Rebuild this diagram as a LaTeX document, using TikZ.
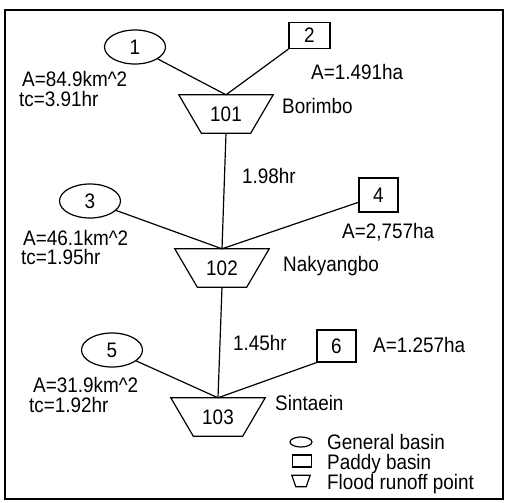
\documentclass[tikz,border=0pt]{standalone}
\usepackage{fontspec}
\setmainfont{Liberation Sans}[FakeStretch=0.9]
\usetikzlibrary{shapes.geometric}
\begin{document}
\begin{tikzpicture}[x=1pt,y=-1pt,
  txt/.style={font=\fontsize{21}{24}\selectfont},
  lbl/.style={txt, anchor=base west, inner sep=0pt},
  gen/.style={txt, draw, ellipse, minimum width=61pt, minimum height=34pt, inner sep=0pt, line width=1.2pt},
  pad/.style={txt, draw, rectangle, inner sep=0pt, line width=1.2pt},
  outp/.style={txt, rectangle, minimum width=94pt, minimum height=38pt, inner sep=0pt},
  conn/.style={line width=1.2pt}
]
\useasboundingbox (0,0) rectangle (507,503);
\draw[line width=2pt] (5,10) rectangle (503,499);

% basins
\node[gen] (e1) at (135,47) {1};
\node[pad, minimum width=41pt, minimum height=26pt] (b2) at (309.5,35.5) {2};
\node[outp] (t101) at (226,114) {101};

\node[gen] (e3) at (90,201) {3};
\node[pad, minimum width=39pt, minimum height=34pt] (b4) at (378.5,195) {4};
\node[outp] (t102) at (222,268) {102};

\node[gen] (e5) at (112,350) {5};
\node[pad, minimum width=39pt, minimum height=32pt] (b6) at (336.5,346) {6};
\node[outp] (t103) at (218,417) {103};

% trapezoid outlines of the flood runoff points
\foreach \t in {t101,t102,t103}
  \draw[conn, line join=miter] (\t.north west) -- (\t.north east) -- ([xshift=-22.5pt]\t.south east)
    -- ([xshift=22.5pt]\t.south west) -- cycle;

% connectors
\draw[conn] (e1) -- (t101.north);
\draw[conn] (b2.south west) -- (t101.north);
\draw[conn] (t101.south) -- (t102.north);
\draw[conn] (e3) -- (t102.north);
\draw[conn] (b4.200) -- (t102.north);
\draw[conn] (t102.south) -- (t103.north);
\draw[conn] (e5) -- (t103.north);
\draw[conn] (b6.south west) -- (t103.north);

% labels
\node[lbl] (la1) at (22,87) {A=84.9km\textasciicircum2};
\node[lbl] (lt1) at (19,107) {tc=3.91hr};
\node[lbl] (la2) at (311,80) {A=1.491ha};
\node[lbl] (n101) at (282,114) {Borimbo};
\node[lbl] (d1) at (242,184) {1.98hr};

\node[lbl] (la3) at (23,245) {A=46.1km\textasciicircum2};
\node[lbl] (lt3) at (21,265) {tc=1.95hr};
\node[lbl] (la4) at (342,239) {A=2,757ha};
\node[lbl] (n102) at (283,272) {Nakyangbo};
\node[lbl] (d2) at (233,350) {1.45hr};

\node[lbl] (la5) at (33,392) {A=31.9km\textasciicircum2};
\node[lbl] (lt5) at (29,412) {tc=1.92hr};
\node[lbl] (la6) at (373,352) {A=1.257ha};
\node[lbl] (n103) at (275,410) {Sintaein};

% legend
\node[draw, ellipse, minimum width=22pt, minimum height=10pt, inner sep=0pt, line width=1.2pt] (lg1) at (301,442) {};
\node[draw, rectangle, minimum width=19pt, minimum height=12pt, inner sep=0pt, line width=1.2pt] (lg2) at (302,461) {};
\node[rectangle, minimum width=18pt, minimum height=11pt, inner sep=0pt] (lg3) at (301,481) {};
\draw[conn, line join=miter] (lg3.north west) -- (lg3.north east) -- ([xshift=-4pt]lg3.south east)
  -- ([xshift=4pt]lg3.south west) -- cycle;
\node[lbl] (lt1g) at (327,449) {General basin};
\node[lbl] (lt2g) at (327,469) {Paddy basin};
\node[lbl] (lt3g) at (327,489) {Flood runoff point};
\end{tikzpicture}
\end{document}
